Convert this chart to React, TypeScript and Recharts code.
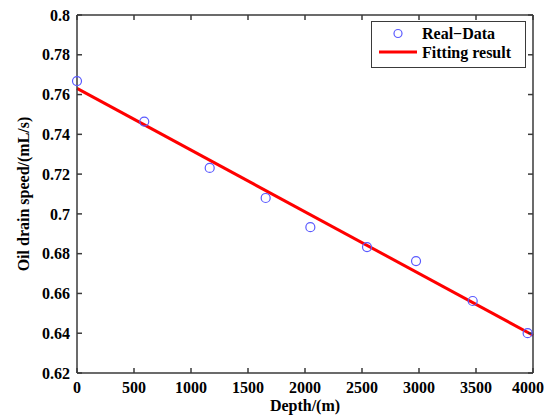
import {
  ComposedChart,
  Line,
  Scatter,
  XAxis,
  YAxis,
} from "recharts";

const depthTicks = [0, 500, 1000, 1500, 2000, 2500, 3000, 3500, 4000];
const speedTicks = [0.62, 0.64, 0.66, 0.68, 0.7, 0.72, 0.74, 0.76, 0.78, 0.8];

const realDepth = [0, 590, 1164, 1655, 2047, 2544, 2974, 3471, 3953];
const realSpeed = [0.7668, 0.7464, 0.7231, 0.708, 0.6933, 0.6833, 0.6763, 0.6562, 0.640];

const fitDepth = [0, 4000];
const fitSpeed = [0.7631, 0.639];

const realData = realDepth.map((d, i) => ({ depth: d, speed: realSpeed[i] }));
const fitData = fitDepth.map((d, i) => ({ depth: d, speed: fitSpeed[i] }));

const FONT = "'Liberation Serif', 'Times New Roman', serif";
const AXIS_COLOR = "#3a3a3a";
const tickStyle = { fontSize: 16, fontWeight: "bold", fill: "#000", fontFamily: FONT };

// box axes (top / right): tick marks only, no labels
const noLabel = () => <g />;

function LegendBox() {
  return (
    <svg width={156} height={48} style={{ display: "block" }}>
      <rect x={0.5} y={0.5} width={154} height={46} fill="#fff" stroke={AXIS_COLOR} strokeWidth={1} />
      <circle cx={27} cy={12.5} r={4} fill="none" stroke="#5a5aff" strokeWidth={1.2} />
      <text x={51} y={18} style={tickStyle}>Real−Data</text>
      <line x1={8} x2={46} y1={31} y2={31} stroke="#ff0000" strokeWidth={3} />
      <text x={51} y={37} style={tickStyle}>Fitting result</text>
    </svg>
  );
}

export default function App() {
  return (
    <div style={{ position: "absolute", left: 0, top: 0, width: 544, height: 415, background: "#fff" }}>
      <ComposedChart
        width={544}
        height={415}
        margin={{ top: 14, right: 10, left: 0, bottom: 0 }}
        style={{ fontFamily: FONT }}
      >
        <XAxis
          xAxisId="bottom"
          dataKey="depth"
          type="number"
          domain={[0, 4000]}
          ticks={depthTicks}
          height={42}
          tickSize={-5}
          tickMargin={14}
          tick={tickStyle}
          stroke={AXIS_COLOR}
          strokeWidth={1.5}
          label={{
            value: "Depth/(m)",
            position: "insideBottom",
            offset: 4,
            style: tickStyle,
          }}
        />
        <XAxis
          xAxisId="top"
          orientation="top"
          dataKey="depth"
          type="number"
          domain={[0, 4000]}
          ticks={depthTicks}
          height={1}
          tickSize={-5}
          tick={noLabel}
          stroke={AXIS_COLOR}
          strokeWidth={1.5}
        />
        <YAxis
          yAxisId="left"
          type="number"
          domain={[0.62, 0.8]}
          ticks={speedTicks}
          width={77}
          tickSize={-5}
          tickMargin={12}
          tick={tickStyle}
          stroke={AXIS_COLOR}
          strokeWidth={1.5}
          label={{
            value: "Oil drain speed/(mL/s)",
            angle: -90,
            position: "insideLeft",
            offset: 23,
            style: { ...tickStyle, textAnchor: "middle" },
          }}
        />
        <YAxis
          yAxisId="right"
          orientation="right"
          type="number"
          domain={[0.62, 0.8]}
          ticks={speedTicks}
          width={1}
          tickSize={-5}
          tick={noLabel}
          stroke={AXIS_COLOR}
          strokeWidth={1.5}
        />
        <Line
          xAxisId="top"
          yAxisId="right"
          data={fitData}
          dataKey="speed"
          type="linear"
          stroke="transparent"
          dot={false}
          activeDot={false}
          legendType="none"
          isAnimationActive={false}
        />
        <Line
          xAxisId="bottom"
          yAxisId="left"
          data={fitData}
          dataKey="speed"
          type="linear"
          stroke="#ff0000"
          strokeWidth={3}
          dot={false}
          activeDot={false}
          isAnimationActive={false}
        />
        <Scatter
          xAxisId="bottom"
          yAxisId="left"
          data={realData}
          dataKey="speed"
          shape={(p: any) => (
            <circle cx={p.cx} cy={p.cy} r={4.5} fill="none" stroke="#5a5aff" strokeWidth={1.2} />
          )}
          isAnimationActive={false}
        />
      </ComposedChart>
      <div style={{ position: "absolute", left: 371, top: 21 }}>
        <LegendBox />
      </div>
    </div>
  );
}
